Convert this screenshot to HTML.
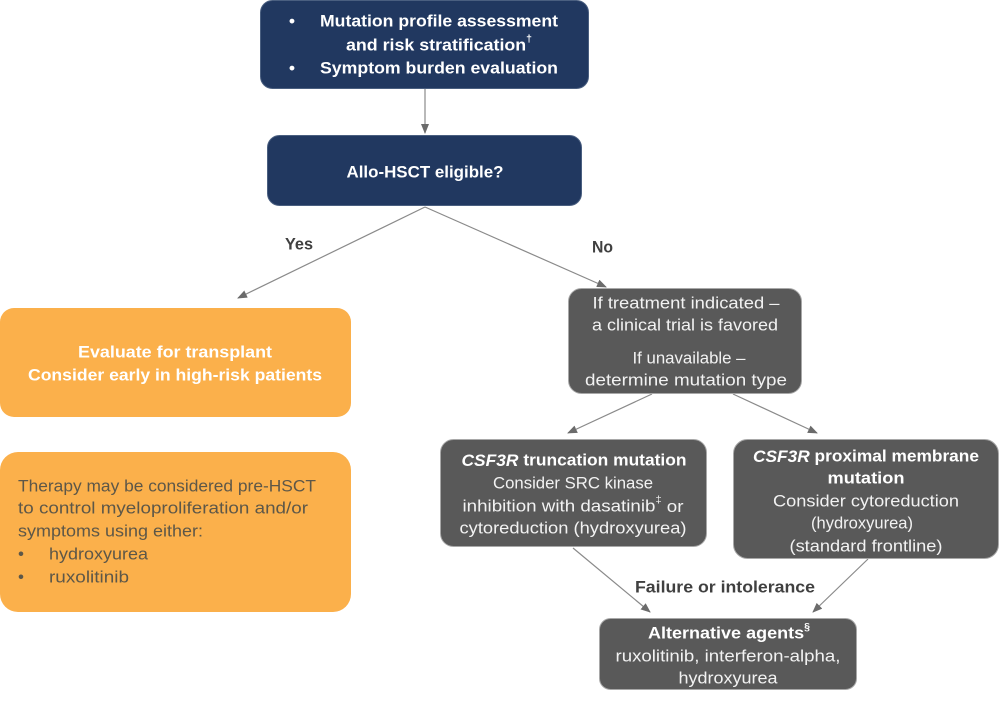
<!DOCTYPE html>
<html>
<head>
<meta charset="utf-8">
<style>
html,body{margin:0;padding:0;background:#fff;}
svg{display:block;}
text{font-family:"Liberation Sans",Arial,sans-serif;}
</style>
</head>
<body>
<svg width="1000" height="701" viewBox="0 0 1000 701" xmlns="http://www.w3.org/2000/svg">
<defs>
<marker id="a" markerWidth="10" markerHeight="8" refX="9" refY="4" orient="auto" markerUnits="userSpaceOnUse">
<path d="M0,0 L10,4 L0,8 z" fill="#6b6b6b"/>
</marker>
</defs>

<!-- connectors -->
<g stroke="#8a8a8a" stroke-width="1.2" fill="none" marker-end="url(#a)">
<line x1="425" y1="89" x2="425" y2="133"/>
<line x1="425" y1="207" x2="238" y2="298"/>
<line x1="425" y1="207" x2="606" y2="287"/>
<line x1="652" y1="394" x2="568" y2="433"/>
<line x1="733" y1="394" x2="817" y2="433"/>
<line x1="573" y1="548" x2="650" y2="612"/>
<line x1="868" y1="559" x2="813" y2="612"/>
</g>

<!-- top navy box -->
<rect x="260.5" y="0.5" width="328" height="88" rx="12" fill="#213860" stroke="#4a5f80" stroke-width="1"/>
<g fill="#fff" font-weight="bold" font-size="17" dominant-baseline="central">
<text x="292" y="21" text-anchor="middle">•</text>
<text x="320" y="21" textLength="238" lengthAdjust="spacingAndGlyphs">Mutation profile assessment</text>
<text x="346" y="45" textLength="186" lengthAdjust="spacingAndGlyphs">and risk stratification<tspan font-size="10" dy="-6">†</tspan></text>
<text x="292" y="68" text-anchor="middle">•</text>
<text x="320" y="68" textLength="238" lengthAdjust="spacingAndGlyphs">Symptom burden evaluation</text>
</g>

<!-- Allo box -->
<rect x="267.5" y="135.5" width="314" height="70" rx="12" fill="#213860" stroke="#4a5f80" stroke-width="1"/>
<text x="425" y="172" fill="#fff" font-weight="bold" font-size="17" text-anchor="middle" dominant-baseline="central" textLength="157" lengthAdjust="spacingAndGlyphs">Allo-HSCT eligible?</text>

<!-- Yes / No -->
<g fill="#404040" font-weight="bold" font-size="17" dominant-baseline="central">
<text x="285" y="244" textLength="28" lengthAdjust="spacingAndGlyphs">Yes</text>
<text x="592" y="247" textLength="21" lengthAdjust="spacingAndGlyphs">No</text>
<text x="725" y="587" text-anchor="middle" textLength="180" lengthAdjust="spacingAndGlyphs">Failure or intolerance</text>
</g>

<!-- orange boxes -->
<rect x="0" y="308" width="351" height="109" rx="14" fill="#fbb04b"/>
<g fill="#fff" font-weight="bold" font-size="17" text-anchor="middle" dominant-baseline="central">
<text x="175" y="352" textLength="194" lengthAdjust="spacingAndGlyphs">Evaluate for transplant</text>
<text x="175" y="375" textLength="294" lengthAdjust="spacingAndGlyphs">Consider early in high-risk patients</text>
</g>

<rect x="0" y="452" width="351" height="160" rx="18" fill="#fbb04b"/>
<g fill="#5d5748" font-size="17" dominant-baseline="central">
<text x="18" y="486" textLength="298" lengthAdjust="spacingAndGlyphs">Therapy may be considered pre-HSCT</text>
<text x="18" y="508" textLength="290" lengthAdjust="spacingAndGlyphs">to control myeloproliferation and/or</text>
<text x="18" y="531" textLength="185" lengthAdjust="spacingAndGlyphs">symptoms using either:</text>
<text x="21" y="554" text-anchor="middle">•</text>
<text x="49" y="554" textLength="99" lengthAdjust="spacingAndGlyphs">hydroxyurea</text>
<text x="21" y="577" text-anchor="middle">•</text>
<text x="49" y="577" textLength="80" lengthAdjust="spacingAndGlyphs">ruxolitinib</text>
</g>

<!-- grey box: treatment indicated -->
<rect x="568.5" y="288.5" width="233" height="105" rx="13" fill="#595959" stroke="#a8a8a8" stroke-width="1"/>
<g fill="#f2f2f2" font-size="17" text-anchor="middle" dominant-baseline="central">
<text x="686" y="303" textLength="187" lengthAdjust="spacingAndGlyphs">If treatment indicated –</text>
<text x="685" y="325" textLength="186" lengthAdjust="spacingAndGlyphs">a clinical trial is favored</text>
<text x="689" y="358" textLength="113" lengthAdjust="spacingAndGlyphs">If unavailable –</text>
<text x="686" y="380" textLength="202" lengthAdjust="spacingAndGlyphs">determine mutation type</text>
</g>

<!-- CSF3R truncation -->
<rect x="440.5" y="439.5" width="266" height="107" rx="13" fill="#595959" stroke="#a8a8a8" stroke-width="1"/>
<g fill="#f2f2f2" font-size="17" text-anchor="middle" dominant-baseline="central">
<text x="574" y="460" font-weight="bold" fill="#fff" textLength="225" lengthAdjust="spacingAndGlyphs"><tspan font-style="italic">CSF3R</tspan> truncation mutation</text>
<text x="573" y="483" textLength="160" lengthAdjust="spacingAndGlyphs">Consider SRC kinase</text>
<text x="573" y="506" textLength="221" lengthAdjust="spacingAndGlyphs">inhibition with dasatinib<tspan font-size="10" dy="-6">‡</tspan><tspan dy="6"> or</tspan></text>
<text x="573" y="528" textLength="227" lengthAdjust="spacingAndGlyphs">cytoreduction (hydroxyurea)</text>
</g>

<!-- CSF3R proximal -->
<rect x="733.5" y="439.5" width="265" height="119" rx="14" fill="#595959" stroke="#a8a8a8" stroke-width="1"/>
<g fill="#f2f2f2" font-size="17" text-anchor="middle" dominant-baseline="central">
<text x="866" y="456" font-weight="bold" fill="#fff" textLength="226" lengthAdjust="spacingAndGlyphs"><tspan font-style="italic">CSF3R</tspan> proximal membrane</text>
<text x="866" y="478" font-weight="bold" fill="#fff" textLength="77" lengthAdjust="spacingAndGlyphs">mutation</text>
<text x="866" y="501" textLength="186" lengthAdjust="spacingAndGlyphs">Consider cytoreduction</text>
<text x="862" y="523" textLength="102" lengthAdjust="spacingAndGlyphs">(hydroxyurea)</text>
<text x="866" y="546" textLength="153" lengthAdjust="spacingAndGlyphs">(standard frontline)</text>
</g>

<!-- Alternative agents -->
<rect x="599.5" y="618.5" width="257" height="71" rx="11" fill="#595959" stroke="#a8a8a8" stroke-width="1"/>
<g fill="#f2f2f2" font-size="17" text-anchor="middle" dominant-baseline="central">
<text x="729" y="633" font-weight="bold" fill="#fff" textLength="162" lengthAdjust="spacingAndGlyphs">Alternative agents<tspan font-size="10" dy="-6">§</tspan></text>
<text x="728" y="656" textLength="225" lengthAdjust="spacingAndGlyphs">ruxolitinib, interferon-alpha,</text>
<text x="728" y="678" textLength="99" lengthAdjust="spacingAndGlyphs">hydroxyurea</text>
</g>
</svg>
</body>
</html>
